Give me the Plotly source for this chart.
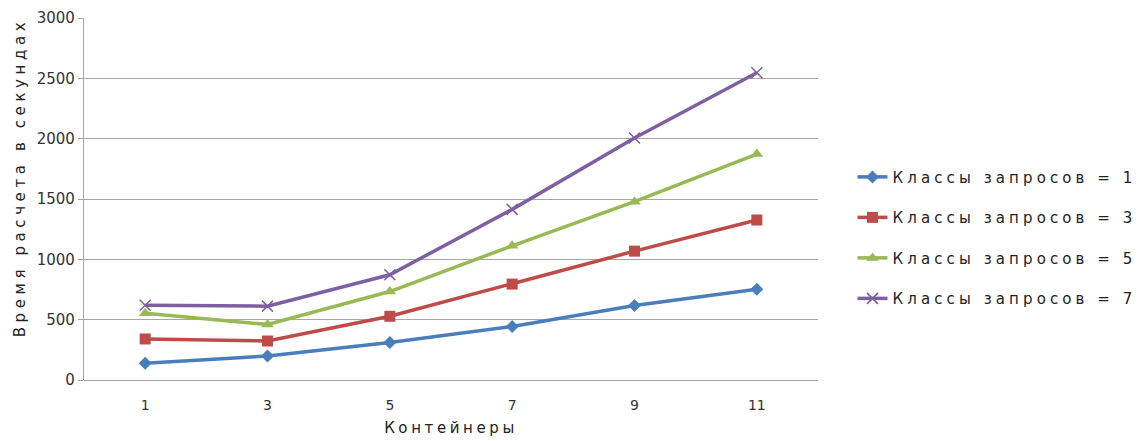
import plotly.graph_objects as go

# Number of containers (x axis categories)
containers = ["1", "3", "5", "7", "9", "11"]

# Computation time in seconds for each number of request classes
classes_1 = [138, 199, 310, 443, 617, 752]
classes_3 = [340, 323, 528, 795, 1068, 1326]
classes_5 = [553, 460, 733, 1112, 1478, 1872]
classes_7 = [620, 612, 872, 1414, 2005, 2546]

series_names = [
    "Классы запросов = 1",
    "Классы запросов = 3",
    "Классы запросов = 5",
    "Классы запросов = 7",
]

colors = ["#4a7ebb", "#be4b48", "#98b954", "#7d60a0"]
symbols = ["diamond", "square", "triangle-up", "x-thin"]
sizes = [10, 11, 11, 11]

FONT = "DejaVu Sans"

fig = go.Figure()
for i, (name, vals) in enumerate(zip(series_names, [classes_1, classes_3, classes_5, classes_7])):
    marker = dict(symbol=symbols[i], size=sizes[i], color=colors[i])
    if symbols[i] == "x-thin":
        marker["line"] = dict(color=colors[i], width=1.5)
    fig.add_trace(go.Scatter(
        x=containers, y=vals, name=name, mode="lines+markers",
        line=dict(color=colors[i], width=3.5),
        marker=marker,
        legendgroup=f"g{i}",
    ))

fig.update_layout(
    width=1142, height=441,
    margin=dict(l=84, r=324, t=18, b=61),
    paper_bgcolor="white", plot_bgcolor="white",
    font=dict(family=FONT, size=15, color="#333333"),
    showlegend=True,
    legend=dict(
        x=1.047, xanchor="left", y=0.606, yanchor="top",
        font=dict(family=FONT, size=15, color="#222222"),
        tracegroupgap=18, bgcolor="rgba(0,0,0,0)",
    ),
    xaxis=dict(
        type="category", range=[-0.5, 5.5], automargin=False,
        showgrid=False, zeroline=False, showline=False,
        ticks="", ticklabelstandoff=15,
        tickfont=dict(family=FONT, size=14, color="#333333"),
        title=dict(text="Контейнеры", standoff=10,
                   font=dict(family=FONT, size=15, color="#222222")),
    ),
    yaxis=dict(
        range=[0, 3000], dtick=500, tick0=0, automargin=False,
        showgrid=True, gridcolor="#a6a6a6", gridwidth=1.2,
        zeroline=True, zerolinecolor="#a6a6a6", zerolinewidth=1.2,
        showline=True, linecolor="#a6a6a6", linewidth=1.2,
        ticks="outside", ticklen=5, tickcolor="#a6a6a6",
        tickfont=dict(family=FONT, size=15, color="#333333"),
    ),
    annotations=[dict(
        text="Время расчета в секундах", textangle=-90,
        xref="paper", yref="paper", x=-0.087, y=0.558,
        xanchor="center", yanchor="middle", showarrow=False,
        font=dict(family=FONT, size=15, color="#222222"),
    )],
)

spacing_js = """
var gd = document.querySelector('.plotly-graph-div');
function spaceText() {
  gd.querySelectorAll('.legendtext').forEach(function (t) {
    t.style.letterSpacing = '4.1px';
  });
  gd.querySelectorAll('.xtitle').forEach(function (t) {
    t.style.letterSpacing = '3.6px';
  });
  gd.querySelectorAll('.annotation-text').forEach(function (t) {
    t.style.letterSpacing = '4.6px';
  });
  gd.querySelectorAll('.legend .scrollbox, .legend').forEach(function (g) {
    g.removeAttribute('clip-path');
  });
}
spaceText();
gd.on('plotly_afterplot', spaceText);
"""

fig.write_html("out.html", post_script=spacing_js)
